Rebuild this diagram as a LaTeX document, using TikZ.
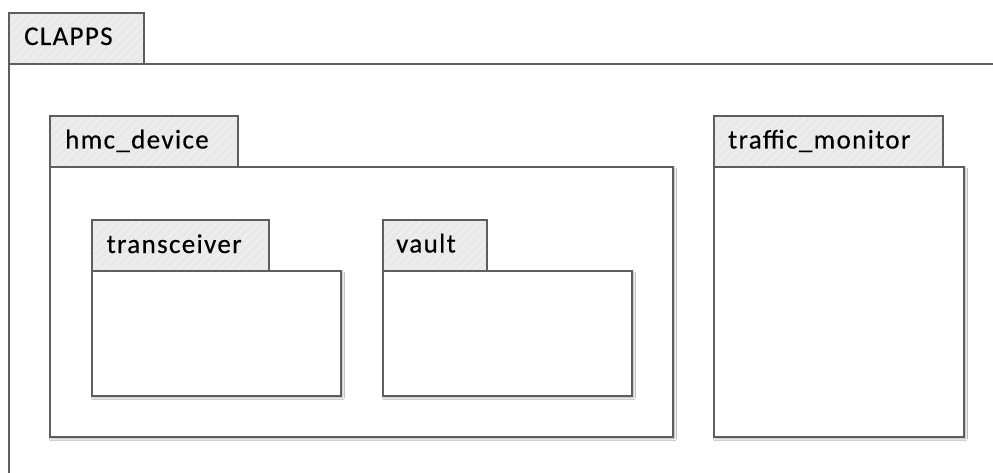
\documentclass[tikz,border=0pt]{standalone}
\usepackage{fontspec}
\setmainfont{Carlito}[LetterSpace=5, FakeBold=0.4]
\usetikzlibrary{patterns.meta, shadows.blur}

\definecolor{edgegray}{HTML}{5E5E5E}
\definecolor{tabgray}{HTML}{E9E9E9}
\definecolor{hatchgray}{HTML}{F3F3F3}

\tikzset{
  pkgbody/.style={rectangle, draw=edgegray, line width=1.7pt, fill=white,
    anchor=north west, inner sep=0pt,
    blur shadow={shadow xshift=1.5pt, shadow yshift=-1.8pt,
      shadow blur radius=2pt, shadow blur steps=6, shadow opacity=35}},
  pkgtab/.style={rectangle, draw=edgegray, line width=1.7pt,
    anchor=north west, inner sep=0pt,
    preaction={fill=tabgray},
    preaction={pattern={Lines[angle=45, distance=6pt, line width=0.8pt]},
                pattern color=hatchgray}},
  pkgname/.style={anchor=base west, inner sep=0pt, text=black,
    font=\fontsize{27}{30}\selectfont},
}

\begin{document}
\begin{tikzpicture}[x=1pt, y=-1pt]
  \useasboundingbox (0,0) rectangle (993,473);
  \clip (0,0) rectangle (993,473);

  % outer package
  \node[pkgbody, minimum width=1000pt, minimum height=430pt] (clappsBody) at (8,63) {};
  \node[pkgtab, minimum width=135pt, minimum height=51pt] (clappsTab) at (8,12) {};
  \node[pkgname] (clappsName) at ([shift={(16pt,-33pt)}]clappsTab.north west) {CLAPPS};

  % hmc_device package
  \node[pkgbody, minimum width=623pt, minimum height=270pt] (hmcBody) at (49,166) {};
  \node[pkgtab, minimum width=188pt, minimum height=51pt] (hmcTab) at (49,115) {};
  \node[pkgname] (hmcName) at ([shift={(16pt,-33.5pt)}]hmcTab.north west) {hmc\_device};

  % transceiver package
  \node[pkgbody, minimum width=249pt, minimum height=125pt] (trxBody) at (91,270) {};
  \node[pkgtab, minimum width=177pt, minimum height=51pt] (trxTab) at (91,219) {};
  \node[pkgname] (trxName) at ([shift={(15.5pt,-34pt)}]trxTab.north west) {transceiver};

  % vault package
  \node[pkgbody, minimum width=249pt, minimum height=125pt] (vaultBody) at (382,270) {};
  \node[pkgtab, minimum width=104pt, minimum height=51pt] (vaultTab) at (382,219) {};
  \node[pkgname] (vaultName) at ([shift={(14pt,-33.5pt)}]vaultTab.north west) {vault};

  % traffic_monitor package
  \node[pkgbody, minimum width=250pt, minimum height=270pt] (tmBody) at (713,166) {};
  \node[pkgtab, minimum width=229pt, minimum height=51pt] (tmTab) at (713,115) {};
  \node[pkgname] (tmName) at ([shift={(15pt,-33.5pt)}]tmTab.north west) {traffic\_monitor};
\end{tikzpicture}
\end{document}
